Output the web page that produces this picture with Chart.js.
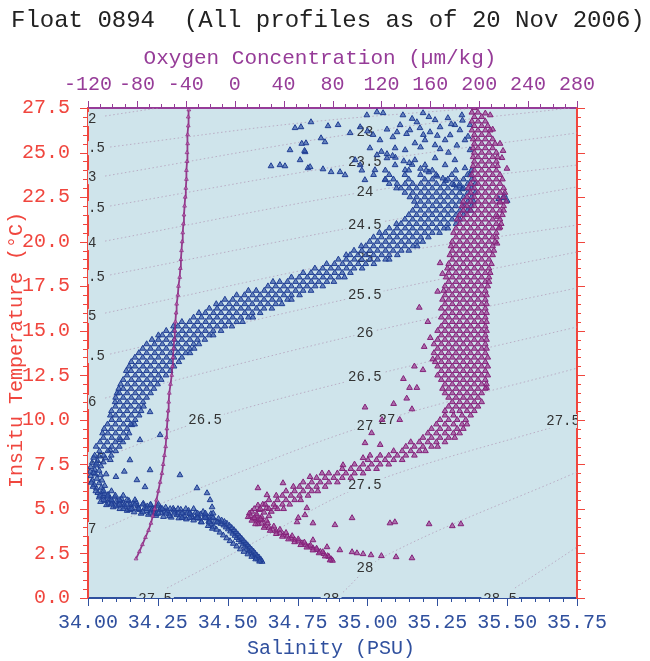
<!DOCTYPE html>
<html>
<head>
<meta charset="utf-8">
<script src="https://cdn.jsdelivr.net/npm/chart.js@4.4.1/dist/chart.umd.min.js"></script>
<style>
html,body{margin:0;padding:0;background:#fff}
#wrap{width:650px;height:661px}
</style>
</head>
<body>
<div id="wrap"><canvas id="ts" width="650" height="661"></canvas></div>
<script>
// axis ticks
const salTicks=[34.00,34.25,34.50,34.75,35.00,35.25,35.50,35.75];
const oxyTicks=[-120,-80,-40,0,40,80,120,160,200,240,280];
const tempTicks=[0,2.5,5,7.5,10,12.5,15,17.5,20,22.5,25,27.5];

// sigma-t isopycnals, [salinity, temperature]
const sigmaLines=[
 [[34.061,27.05],[34.25,27.5]],
 [[34.079,25.31],[34.759,26.66],[35.392,27.5]],
 [[34.061,23.68],[34.991,26.15],[35.725,27.5]],
 [[34.079,22.0],[34.991,24.47],[35.75,26.1]],
 [[34.061,20.03],[34.991,22.79],[35.75,24.3]],
 [[34.079,18.13],[34.991,20.93],[35.75,23.07]],
 [[34.061,15.99],[34.991,19.08],[35.75,20.93]],
 [[34.079,13.69],[34.991,17.0],[35.75,19.42]],
 [[34.061,11.22],[34.991,14.87],[35.75,17.4]],
 [[34.079,8.02],[34.419,9.99],[34.991,12.4],[35.75,15.21]],
 [[34.061,3.93],[34.293,5.5],[34.991,9.65],[35.75,12.9]],
 [[34.283,0.56],[34.58,3.0],[34.991,6.34],[35.75,9.99]],
 [[34.902,0.17],[35.056,2.3],[35.75,7.07]],
 [[35.528,0.56],[35.75,2.86]]
];
const sigmaLabels=[
 ['22',34.0,26.88],['22.5',34.0,25.25],['23',34.0,23.62],['23.5',34.0,21.89],['24',34.0,19.92],
 ['24.5',34.0,18.01],['25',34.0,15.83],['25.5',34.0,13.58],['26',34.0,11.0],['26.5',34.0,7.8],['27',34.0,3.87],
 ['23',34.991,26.15],['23.5',34.991,24.47],['24',34.991,22.79],['24.5',34.991,20.93],['25',34.991,19.08],
 ['25.5',34.991,17.0],['26',34.991,14.87],['26.5',34.991,12.4],['27',34.991,9.65],['27.5',34.991,6.34],['28',34.991,1.68],
 ['26.5',34.419,9.99],['27',35.07,9.95],['27.5',35.70,9.93],['27.5',34.24,-0.1],['28',34.87,-0.1],['28.5',35.475,-0.1]
];

// salinity observations, [salinity, temperature]
const blueTail=[[34.623,2.04],[34.616,2.10],[34.61,2.17],[34.619,2.15],[34.603,2.25],[34.612,2.28],[34.596,2.34],[34.605,2.38],[34.589,2.44],[34.598,2.5],[34.583,2.55],[34.592,2.62],[34.576,2.66],[34.585,2.73],[34.569,2.78],[34.578,2.85],[34.562,2.9],[34.571,2.97],[34.555,3.02],[34.564,3.08],[34.548,3.14],[34.557,3.2],[34.54,3.26],[34.55,3.33],[34.533,3.38],[34.543,3.45],[34.526,3.5],[34.536,3.58],[34.518,3.62],[34.529,3.7],[34.51,3.74],[34.522,3.82],[34.502,3.86],[34.514,3.94],[34.494,3.97],[34.506,4.06],[34.486,4.08],[34.497,4.18],[34.476,4.17],[34.488,4.28],[34.466,4.25],[34.478,4.36],[34.455,4.3],[34.467,4.45],
 [34.614,2.05],[34.6,2.18],[34.586,2.32],[34.572,2.46],[34.558,2.6],[34.545,2.74],[34.532,2.9],[34.52,3.05],[34.508,3.2],[34.496,3.36],[34.484,3.52],[34.472,3.68],[34.46,3.84],[34.45,4.0],[34.44,4.15],[34.43,4.05],[34.445,3.9]];
const blueShelf=[[34.445,4.55],[34.44,4.72],[34.432,4.3],[34.425,4.48],[34.42,4.66],[34.412,4.84],[34.405,4.28],[34.398,4.46],[34.392,4.62],[34.385,4.8],[34.378,4.36],[34.372,4.55],[34.365,4.72],[34.36,4.9],[34.352,4.42],[34.345,4.6],[34.34,4.78],[34.332,4.96],[34.325,4.48],[34.318,4.66],[34.312,4.84],[34.305,5.02],[34.298,4.52],[34.29,4.7],[34.285,4.9],[34.278,5.08],[34.27,4.56],[34.264,4.76],[34.258,4.95],[34.25,5.15],[34.243,4.62],[34.236,4.82],[34.23,5.02],[34.224,5.22],[34.216,4.68],[34.21,4.88],[34.204,5.08],[34.198,5.3],[34.19,4.74],[34.184,4.95],[34.178,5.16],[34.172,5.38],[34.165,4.82],[34.158,5.02],[34.152,5.24],[34.146,5.46],[34.14,4.9],[34.133,5.1],[34.127,5.32],[34.12,5.56],[34.114,5.0],[34.108,5.2],[34.102,5.42],[34.096,5.66],[34.09,5.1],[34.084,5.32],[34.078,5.55],[34.072,5.8],[34.066,5.22],[34.06,5.46],[34.055,5.7],[34.05,5.96],
 [34.435,4.4],[34.418,4.57],[34.402,4.7],[34.388,4.5],[34.37,4.65],[34.355,4.8],[34.338,4.52],[34.322,4.75],[34.308,4.92],[34.292,4.6],[34.275,4.85],[34.26,5.05],[34.245,4.72],[34.228,4.92],[34.212,5.15],[34.196,4.82],[34.18,5.05],[34.162,5.3],[34.148,4.95],[34.13,5.2],[34.115,5.45],[34.1,5.15],[34.086,5.42],[34.07,5.65],[34.058,5.85],[34.074,5.3]];
const blueNose=[[34.045,5.4],[34.04,5.65],[34.035,5.9],[34.03,6.15],[34.048,6.2],[34.022,6.35],[34.04,6.45],[34.015,6.6],[34.032,6.7],[34.05,6.6],[34.01,6.85],[34.026,6.95],[34.045,6.9],[34.008,7.1],[34.024,7.2],[34.04,7.15],[34.01,7.35],[34.028,7.45],[34.046,7.4],[34.015,7.6],[34.034,7.7],[34.055,7.62],[34.02,7.88],[34.04,7.95],[34.062,7.85],[34.08,7.75],[34.06,6.3],[34.065,6.95],[34.018,6.25],[34.012,6.48],[34.02,7.02],[34.03,7.55]];
// dense bands, one row per temperature: [temperature, salinity, salinity, ...]
const blueShelfRows=[
 [4.25,34.406,34.434,34.462],[4.5,34.336,34.364,34.392,34.42,34.448],
 [4.75,34.224,34.252,34.28,34.308,34.336,34.364,34.392,34.42,34.448],
 [5.0,34.126,34.154,34.182,34.21,34.238,34.266,34.294,34.322,34.35,34.378],
 [5.25,34.084,34.112,34.14,34.168,34.196,34.224,34.252],[5.5,34.056,34.084,34.112,34.14,34.168],
 [5.75,34.042,34.07,34.098,34.126],[6.0,34.028,34.056,34.084]];
const blueLimbRows=[
 [8.0,34.024,34.056,34.083],[8.25,34.041,34.071,34.099],[8.5,34.029,34.057,34.085,34.112],[8.75,34.043,34.069,34.098,34.125],
 [9.0,34.055,34.085,34.113,34.139],[9.25,34.052,34.071,34.099,34.127,34.147],[9.5,34.058,34.084,34.113,34.14],[9.75,34.07,34.098,34.127,34.153,34.167],
 [10.0,34.085,34.112,34.142,34.169],[10.25,34.08,34.099,34.126,34.155,34.183],[10.5,34.084,34.113,34.14,34.168,34.19],[10.75,34.098,34.127,34.153,34.182,34.199],
 [11.0,34.097,34.113,34.14,34.168,34.197],[11.25,34.099,34.126,34.155,34.182,34.21],[11.5,34.104,34.112,34.14,34.169,34.196,34.224],[11.75,34.11,34.126,34.154,34.183,34.21,34.236],
 [12.0,34.117,34.141,34.168,34.197,34.224,34.249],[12.25,34.126,34.155,34.182,34.211,34.238,34.262],[12.5,34.14,34.169,34.196,34.225,34.252,34.279],[12.75,34.137,34.154,34.183,34.21,34.239,34.266,34.294],
 [13.0,34.147,34.168,34.197,34.224,34.253,34.28,34.308],[13.25,34.155,34.182,34.21,34.238,34.267,34.294,34.325],[13.5,34.168,34.196,34.225,34.252,34.281,34.308,34.336],[13.75,34.182,34.21,34.239,34.266,34.295,34.322,34.35,34.365],
 [14.0,34.196,34.224,34.253,34.28,34.309,34.336,34.364,34.38],[14.25,34.21,34.238,34.266,34.295,34.322,34.351,34.378,34.397],[14.5,34.229,34.252,34.28,34.309,34.336,34.365,34.392,34.418],[14.75,34.252,34.266,34.294,34.323,34.35,34.379,34.406,34.434,34.448],
 [15.0,34.28,34.308,34.337,34.364,34.393,34.42,34.448,34.476],[15.25,34.306,34.322,34.35,34.379,34.406,34.435,34.462,34.49,34.515],[15.5,34.336,34.364,34.392,34.421,34.448,34.477,34.504,34.532,34.553],[15.75,34.378,34.406,34.435,34.462,34.491,34.518,34.547,34.574,34.59],
 [16.0,34.397,34.42,34.449,34.476,34.505,34.532,34.561,34.588,34.616],[16.25,34.434,34.462,34.491,34.518,34.547,34.574,34.603,34.63,34.658],[16.5,34.459,34.476,34.505,34.532,34.561,34.588,34.617,34.644,34.672,34.694],[16.75,34.49,34.518,34.547,34.574,34.603,34.63,34.659,34.686,34.714,34.728],
 [17.0,34.532,34.56,34.589,34.616,34.645,34.672,34.701,34.728,34.757],[17.25,34.574,34.602,34.631,34.658,34.687,34.714,34.743,34.77,34.798]];
const blueSlopeRows=[
 [17.5,34.644,34.672,34.701,34.728,34.757,34.784,34.813,34.84],[17.75,34.662,34.686,34.714,34.743,34.77,34.799,34.826,34.855,34.88],
 [18.0,34.728,34.756,34.785,34.812,34.841,34.868,34.897,34.918],[18.25,34.77,34.798,34.827,34.854,34.883,34.91,34.939],
 [18.5,34.812,34.84,34.869,34.896,34.925,34.952,34.981],[18.75,34.854,34.882,34.911,34.938,34.967,34.994,35.023],
 [19.0,34.896,34.924,34.953,34.98,35.009,35.036,35.065,35.078],[19.25,34.924,34.938,34.966,34.995,35.022,35.051,35.078,35.107],
 [19.5,34.952,34.98,35.009,35.036,35.065,35.092,35.121,35.148],[19.75,34.978,34.994,35.022,35.051,35.078,35.107,35.134,35.163,35.178],
 [20.0,35.008,35.036,35.065,35.092,35.121,35.148,35.177,35.198],[20.25,35.022,35.05,35.079,35.106,35.135,35.162,35.191,35.218],
 [20.5,35.043,35.064,35.093,35.12,35.149,35.176,35.205,35.232,35.258],[20.75,35.078,35.106,35.135,35.162,35.191,35.218,35.247,35.274,35.288],
 [21.0,35.104,35.12,35.149,35.176,35.205,35.232,35.261,35.288,35.317],[21.25,35.134,35.162,35.191,35.218,35.247,35.274,35.303,35.33],
 [21.5,35.148,35.176,35.205,35.232,35.261,35.288,35.317,35.344],[21.75,35.162,35.19,35.219,35.246,35.275,35.302,35.331,35.358,35.37],
 [22.0,35.176,35.204,35.233,35.26,35.289,35.316,35.345,35.372],[22.25,35.168,35.19,35.218,35.247,35.274,35.303,35.33,35.359,35.38],
 [22.5,35.152,35.176,35.205,35.232,35.261,35.288,35.317,35.344,35.373],[22.75,35.134,35.162,35.191,35.218,35.247,35.274,35.303,35.33,35.359,35.386],
 [23.0,35.104,35.12,35.149,35.176,35.205,35.232,35.261,35.288,35.317,35.344,35.373],[23.25,35.078,35.106,35.135,35.162,35.191,35.218,35.247,35.274,35.303,35.33,35.359,35.386],
 [23.5,35.064,35.093,35.148,35.205,35.232,35.288,35.317,35.344,35.373],[23.75,35.022,35.078,35.134,35.19,35.246,35.302,35.358],
 [24.0,34.98,35.064,35.148,35.232,35.316,35.372]];
const blueFork=[[35.34,22.95],[35.31,23.18],[35.28,23.42],[35.25,23.66],[35.22,23.9],[35.19,24.1],[35.16,24.32],[35.13,24.52],[35.1,24.72],[35.07,24.92],[35.05,25.05],[35.33,23.1],[35.27,23.55],[35.21,24.0],[35.15,24.42],[35.09,24.82],[35.47,22.4],[35.49,22.6],[35.5,22.3],[35.485,22.45]];
const blueTop=[[34.762,26.43],[34.798,26.71],[34.859,26.49],[34.895,26.55],[34.655,24.24],[34.705,24.24],[34.78,25.53],[34.777,25.03],[34.834,25.81],[34.848,25.59],[34.787,24.13],[34.841,24.07],[34.87,23.91],[34.741,26.38],[34.938,26.1],[34.974,26.43],[34.998,27.1],[35.034,27.27],[35.056,27.22],[34.795,24.19],[34.902,23.91],[34.974,24.3],[35.034,24.86],[35.07,24.69],[35.091,25.87],[35.127,27.1],[35.177,26.71],[35.199,27.22],[35.106,26.15],[35.117,26.55],[35.152,26.26],[35.188,26.38],[35.224,26.15],[35.26,26.43],[35.296,25.98],[35.331,26.26],[35.313,26.55],[35.278,25.7],[35.242,25.42],[35.206,25.7],[35.17,25.53],[35.135,25.14],[35.099,25.25],[35.349,25.7],[35.367,25.14],[35.367,26.55],[35.242,26.83],[35.288,26.94],[35.338,27.1],[35.045,25.7],[35.009,25.25],[34.956,24.58],[34.92,23.74],[34.991,23.46],[35.027,24.02],[35.063,23.46],[35.099,24.3],[35.135,24.02],[35.17,24.58],[35.206,24.3],[35.242,24.69],[35.278,24.3],[35.313,24.58],[35.349,24.13],[35.367,23.74],[34.759,24.58],[34.723,25.14],[34.687,24.3],[34.765,25.5],[34.775,25.1],
 [35.0,26.2],[35.02,26.0],[35.07,26.3],[35.14,26.05],[35.2,26.0],[35.25,25.95],[35.3,26.6],[35.34,26.8],[35.22,27.0],[35.16,26.9],[35.32,25.4],[35.36,25.9],[35.19,25.3],[35.26,25.2],[35.29,25.0]];
const blueStray=[[34.39,6.17],[34.426,5.89],[34.437,5.5],[34.444,5.1],[34.175,6.62],[34.204,6.23],[34.15,7.74],[34.222,7.18],[34.115,8.87],[34.157,9.71],[34.222,10.44],[34.186,8.87],[34.258,9.15],[34.329,6.9],[34.079,8.31],[34.13,7.1],[34.1,6.8]];

// oxygen observations, [oxygen, temperature]
const oxyTail=[[16,4.45],[19,4.3],[22,4.18],[25,4.05],[28,3.95],[31,3.85],[34,3.74],[37,3.64],[40,3.55],[43,3.46],[46,3.36],[49,3.27],[52,3.18],[55,3.08],[58,2.99],[61,2.9],[64,2.8],[67,2.7],[70,2.6],[73,2.48],[76,2.36],[79,2.18],[80,2.1],
 [18,4.6],[22,4.4],[27,4.2],[32,4.02],[37,3.84],[42,3.66],[47,3.48],[52,3.3],[57,3.12],[62,2.95],[67,2.78],[72,2.58],[77,2.32],
 [19,4.15],[24,3.95],[29,3.78],[34,3.6],[39,3.45],[44,3.3],[49,3.14],[54,2.98],[59,2.84],[64,2.68],[69,2.52],[74,2.34],[78,2.12]];
const oxyNose=[[13,4.6],[14,4.85],[16,5.0],[18,4.7],[20,4.95],[22,4.55],[24,4.8],[26,5.05],[28,4.6],[14,4.35],[17,4.15],[21,4.42],[26,4.35],[30,4.85],[33,5.1],[12,4.75],[19,5.2],[23,5.25],[16,4.5],[11,4.55]];
// dense bands, one row per temperature: [temperature, oxygen, oxygen, ...]
const oxyArmRows=[
 [5.0,21,28,35,40],[5.25,25,32,39,45],[5.5,28,35,42,49,54],[5.75,34,39,46,53,60],[6.0,42,49,56,63,68],[6.25,48,53,60,67,74],
 [6.5,56,63,70,77,84],[6.75,67,74,81,88,95],[7.0,77,84,91,98,105],[7.25,88,95,102,109,116],[7.5,98,105,112,119,126],[7.75,109,116,123,130,137],
 [8.0,119,126,133,140,147],[8.25,130,137,144,151,156],[8.5,140,147,154,161,166],[8.75,144,151,158,165,172],[9.0,154,161,168,175,180],[9.25,158,165,172,179,184],
 [9.5,161,168,175,182,187],[9.75,165,172,179,186,190],[10.0,168,175,182,189],[10.25,172,179,186,193]];
const oxyColumnRows=[
 [10.5,172,178,184,190,196],[10.75,175,181,187,193,199],[11.0,178,184,190,196,202],[11.25,175,181,187,193,199],
 [11.5,172,178,184,190,196,202],[11.75,170,175,181,187,193,199,205],[12.0,172,178,184,190,196,202,206],[12.25,169,175,181,187,193,199,205],
 [12.5,166,172,178,184,190,196,202,207],[12.75,169,175,181,187,193,199,205],[13.0,166,172,178,184,190,196,202,207],[13.25,164,169,175,181,187,193,199,205],
 [13.5,166,172,178,184,190,196,202,207],[13.75,163,169,175,181,187,193,199,205],[14.0,166,172,178,184,190,196,202,206],[14.25,163,169,175,181,187,193,199,205],
 [14.5,166,172,178,184,190,196,202,206],[14.75,169,175,181,187,193,199,205],[15.0,166,172,178,184,190,196,202,206],[15.25,169,175,181,187,193,199,205],
 [15.5,172,178,184,190,196,202,206],[15.75,169,175,181,187,193,199,205],[16.0,172,178,184,190,196,202,206],[16.25,169,175,181,187,193,199,205],
 [16.5,172,178,184,190,196,202,206],[16.75,170,175,181,187,193,199,205],[17.0,172,178,184,190,196,202,206],[17.25,171,175,181,187,193,199,205],
 [17.5,172,178,184,190,196,202,207],[17.75,175,181,187,193,199,205,208],[18.0,173,178,184,190,196,202,208],[18.25,175,181,187,193,199,205,209],
 [18.5,174,178,184,190,196,202,208],[18.75,175,181,187,193,199,205,210],[19.0,178,184,190,196,202,208],[19.25,176,181,187,193,199,205,211],
 [19.5,178,184,190,196,202,208,212],[19.75,177,181,187,193,199,205,211],[20.0,178,184,190,196,202,208,213],[20.25,181,187,193,199,205,211,214],
 [20.5,179,184,190,196,202,208,214],[20.75,181,187,193,199,205,211,216],[21.0,184,190,196,202,208,214,218],[21.25,182,187,193,199,205,211,217],
 [21.5,184,190,196,202,208,214,219],[21.75,187,193,199,205,211,217,220],[22.0,186,190,196,202,208,214,220],[22.25,187,193,199,205,211,217,222],
 [22.5,190,196,202,208,214,220],[22.75,193,199,205,211,217,221],[23.0,191,196,202,208,214,220],[23.25,193,199,205,211,217],
 [23.5,196,202,208,214,219],[23.75,194,199,205,211,217],[24.0,196,202,208,214],[24.25,195,199,205,211,215],
 [24.5,196,202,208,214],[24.75,195,199,205,211,215],[25.0,196,202,208,214],[25.25,195,199,205,211],
 [25.5,196,202,208,213],[25.75,195,199,205,211],[26.0,196,202,208],[26.25,194,199,205,209],
 [26.5,196,202,207],[26.75,194,199,205],[27.0,196,202],[27.25,194,199],[27.5,196]];
const oxyStray=[[51,4.26],[64,3.25],[75.5,2.86],[86,2.69],[96,2.58],[100,2.52],[105,2.47],[111.5,2.41],[120,2.36],[132,2.3],[145,2.24],[96,4.49],[82,4.1],[127,4.2],[131,4.26],[159,4.15],[178,4.04],[185,4.15],[59,5.05],[57.5,4.66],[52,4.5],[64,4.2],[19,6.17],[26.4,5.78],[39.5,6.45],[61.6,6.8],[71.4,7.0],[88.6,7.46],[105,7.86],[110.7,8.0],[151,16.3],[160,14.6],[162,13.4],[154,12.8],[149,11.8],[143,11.8],[140.7,11.2],[106.6,10.7],[120.5,10.0],[135,10.0],[112,9.26],[106.6,8.7],[119,8.6],[168,18.8],[170,18.2],[166,17.2],[205,27.2],[209,27.1],[211,26.3],[217,25.5],[219.5,25.1],[218.6,24.7],[222.7,24.1],[217,22.2],[215,21.4],[217,20.8],[214.6,19.9],[206,11.8],[158,15.5],[155,14.1],[147,13.0],[138,12.3],[130,10.9],[145,10.6]];
const oxyThin=[[-80.7,2.2],[-78,2.6],[-75.5,3.0],[-73,3.4],[-70.5,3.8],[-68.5,4.2],[-67,4.6],[-65.5,5.0],[-64,5.5],[-62.5,6.0],[-61,6.5],[-59.5,7.0],[-58.5,7.5],[-57.5,8.0],[-56.5,8.5],[-56,9.0],[-55.5,9.5],[-55,10.0],[-54.5,10.5],[-54,11.0],[-53.5,11.5],[-52.5,12.0],[-51.5,12.5],[-51,13.0],[-50.5,13.5],[-50,14.0],[-49.5,14.5],[-49,15.0],[-48.5,15.5],[-48,16.0],[-47.5,16.5],[-46.5,17.0],[-46,17.5],[-45,18.0],[-44.5,18.5],[-44,19.0],[-43.5,19.5],[-43,20.0],[-42.5,20.5],[-42,21.0],[-41.5,21.5],[-41,22.0],[-40.5,22.5],[-40,23.0],[-39.5,23.5],[-39.5,24.0],[-39,24.5],[-39,25.0],[-38.5,25.5],[-38.5,26.0],[-38,26.5],[-38,27.0],[-37.5,27.4]];

const MONO='"Liberation Mono","Courier New",monospace';
const RED='#f0463e',PURPLE='#963c98',BLUE='#30509e',PLOT_BG='#cfe4eb';
const toXY=a=>a.map(p=>({x:p[0],y:p[1]}));
const rowsXY=rows=>rows.flatMap(r=>r.slice(1).map(v=>({x:v,y:r[0]})));

const blueAll=toXY([].concat(blueTail,blueShelf,blueNose,blueFork,blueTop,blueStray)).concat(rowsXY(blueShelfRows),rowsXY(blueLimbRows),rowsXY(blueSlopeRows));
const oxyAll=toXY([].concat(oxyTail,oxyNose,oxyStray)).concat(rowsXY(oxyArmRows),rowsXY(oxyColumnRows));

const contourSets=sigmaLines.map(l=>({data:toXY(l),xAxisID:'x',yAxisID:'y',showLine:true,pointRadius:0,borderColor:'rgba(175,150,180,0.7)',borderWidth:1,borderDash:[1.5,2.5],tension:0.35,order:5}));
const BLUE_INDEX=contourSets.length;

function drawSigmaLabels(c){
 const sx=c.scales.x,sy=c.scales.y,a=c.chartArea,ctx=c.ctx;
 ctx.save();ctx.beginPath();ctx.rect(a.left,a.top,a.right-a.left,a.bottom-a.top);ctx.clip();
 ctx.font='14px '+MONO;ctx.textAlign='center';ctx.textBaseline='middle';
 sigmaLabels.forEach(([t,s,tp])=>{
  const px=sx.getPixelForValue(s),py=sy.getPixelForValue(tp),w=ctx.measureText(t).width;
  ctx.fillStyle=PLOT_BG;ctx.fillRect(px-w/2-2,py-7,w+4,14);
  ctx.fillStyle='#333';ctx.fillText(t,px,py);
 });
 ctx.restore();
}
function tickRow(ctx,scale,from,to,step,ratio,side,lMaj,lMin,color,a){
 ctx.strokeStyle=color;ctx.lineWidth=1;ctx.beginPath();
 const n=Math.round((to-from)/step);
 for(let i=0;i<=n;i++){
  const L=i%ratio===0?lMaj:lMin,p=Math.round(scale.getPixelForValue(from+i*step))+0.5;
  if(side==='bottom'){ctx.moveTo(p,a.bottom);ctx.lineTo(p,a.bottom+L);}
  if(side==='top'){ctx.moveTo(p,a.top);ctx.lineTo(p,a.top-L);}
  if(side==='left'){ctx.moveTo(a.left,p);ctx.lineTo(a.left-L,p);}
  if(side==='right'){ctx.moveTo(a.right,p);ctx.lineTo(a.right+L,p);}
 }
 ctx.stroke();
}
const frame={id:'frame',
 beforeDraw(c){const a=c.chartArea,ctx=c.ctx;ctx.save();ctx.fillStyle=PLOT_BG;ctx.fillRect(a.left,a.top,a.right-a.left,a.bottom-a.top);ctx.restore();},
 beforeDatasetDraw(c,args){if(args.index===BLUE_INDEX)drawSigmaLabels(c);},
 afterDraw(c){
  const ctx=c.ctx,a=c.chartArea;
  ctx.save();
  tickRow(ctx,c.scales.x,34,35.75,0.05,5,'bottom',8,4,BLUE,a);
  tickRow(ctx,c.scales.xO,-120,280,10,4,'top',7,4,PURPLE,a);
  tickRow(ctx,c.scales.y,0,27.5,0.5,5,'left',8,5,RED,a);
  tickRow(ctx,c.scales.yR,0,27.5,0.5,5,'right',8,4,RED,a);
  ctx.fillStyle='#222';ctx.font='24px '+MONO;ctx.textAlign='left';ctx.textBaseline='alphabetic';
  ctx.fillText('Float 0894  (All profiles as of 20 Nov 2006)',11,27);
  ctx.textAlign='center';ctx.textBaseline='middle';
  ctx.fillStyle=PURPLE;ctx.font='21px '+MONO;ctx.fillText('Oxygen Concentration (\u00b5m/kg)',320,58);
  ctx.fillStyle=BLUE;ctx.font='20px '+MONO;ctx.fillText('Salinity (PSU)',331,649);
  ctx.translate(17,350);ctx.rotate(-Math.PI/2);
  ctx.fillStyle=RED;ctx.font='20px '+MONO;ctx.fillText('Insitu Temperature (\u00b0C)',0,0);
  ctx.restore();
 }
};
const gridOpt={display:true,drawOnChartArea:false,drawTicks:true,tickLength:8,color:'rgba(0,0,0,0)'};

new Chart(document.getElementById('ts'),{
 type:'scatter',
 data:{datasets:contourSets.concat([
  {label:'Salinity',data:blueAll,xAxisID:'x',yAxisID:'y',pointStyle:'triangle',pointRadius:3.3,borderWidth:1,borderColor:'rgba(32,62,148,1)',backgroundColor:'rgba(55,90,170,0.7)',order:2},
  {label:'Oxygen',data:oxyAll,xAxisID:'xO',yAxisID:'y',pointStyle:'triangle',pointRadius:3.3,borderWidth:1,borderColor:'rgba(132,34,122,1)',backgroundColor:'rgba(155,60,145,0.7)',order:1},
  {label:'Oxygen profile',data:toXY(oxyThin),xAxisID:'xO',yAxisID:'y',showLine:true,borderColor:'rgba(140,40,130,0.9)',borderWidth:1.8,pointStyle:'triangle',pointRadius:2.2,pointBorderWidth:0.8,pointBackgroundColor:'rgba(200,120,190,0.6)',order:1}
 ])},
 options:{
  responsive:false,devicePixelRatio:1,animation:false,
  layout:{padding:0},
  plugins:{legend:{display:false},tooltip:{enabled:false}},
  scales:{
   x:{type:'linear',position:'bottom',min:34,max:35.75,
    afterBuildTicks:s=>{s.ticks=salTicks.map(v=>({value:v}));},
    afterFit:s=>{s.height=63;},
    ticks:{color:BLUE,font:{family:MONO,size:20},padding:5,autoSkip:false,maxRotation:0,callback:v=>Number(v).toFixed(2)},
    grid:gridOpt,border:{display:true,color:BLUE,width:2}},
   xO:{type:'linear',position:'top',min:-120,max:280,
    afterBuildTicks:s=>{s.ticks=oxyTicks.map(v=>({value:v}));},
    afterFit:s=>{s.height=108;},
    ticks:{color:PURPLE,font:{family:MONO,size:20},padding:3,autoSkip:false,maxRotation:0,callback:v=>String(v)},
    grid:gridOpt,border:{display:true,color:PURPLE,width:2}},
   y:{type:'linear',position:'left',min:0,max:27.5,
    afterBuildTicks:s=>{s.ticks=tempTicks.map(v=>({value:v}));},
    afterFit:s=>{s.width=88;},
    ticks:{color:RED,font:{family:MONO,size:20},padding:10,autoSkip:false,callback:v=>Number(v).toFixed(1)},
    grid:gridOpt,border:{display:true,color:RED,width:2}},
   yR:{type:'linear',position:'right',min:0,max:27.5,
    afterFit:s=>{s.width=73;},
    ticks:{display:false},
    grid:gridOpt,border:{display:true,color:RED,width:2}}
  }
 },
 plugins:[frame]
});
</script>
</body>
</html>
